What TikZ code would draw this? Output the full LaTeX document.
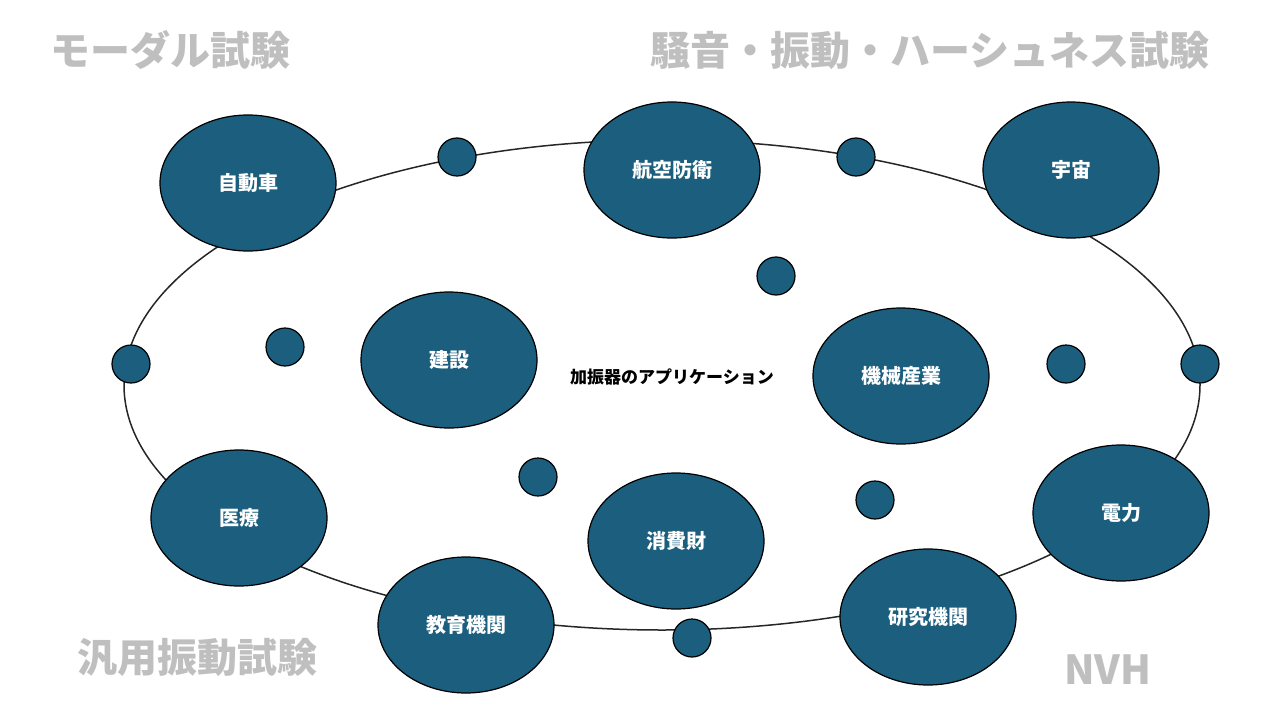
\documentclass[tikz,border=0pt]{standalone}
\usepackage{fontspec}
\setmainfont{Noto Sans CJK JP}
\usetikzlibrary{shapes.geometric}
\definecolor{nodeblue}{HTML}{1B5E7E}
\definecolor{titlegray}{HTML}{BFBFBF}
\begin{document}
\begin{tikzpicture}[x=1pt,y=-1pt,
	field/.style={draw=black,line width=1.2pt,fill=nodeblue,ellipse,minimum width=176pt,minimum height=136pt,
		text=white,font=\fontsize{20}{24}\selectfont\bfseries},
	dot/.style={draw=black,line width=1.2pt,fill=nodeblue,circle,minimum size=38pt,inner sep=0pt},
	title/.style={text=titlegray,font=\fontsize{40}{48}\selectfont\bfseries}]

	\useasboundingbox (0,0) rectangle (1280,720);
	\draw[line width=1.5pt,black!85] (662,385) ellipse (538 and 245);

	% fields
	\node[field] (car)    at (248,183) {自動車};
	\node[field] (aero)   at (672,170) {航空防衛};
	\node[field] (space)  at (1071,170) {宇宙};
	\node[field] (build)  at (449,360) {建設};
	\node[field] (mach)   at (901,376) {機械産業};
	\node[field] (med)    at (239,518) {医療};
	\node[field] (goods)  at (676,541) {消費財};
	\node[field] (power)  at (1121,513) {電力};
	\node[field] (edu)    at (466,625) {教育機関};
	\node[field] (lab)    at (928,617) {研究機関};

	% small dots
	\foreach \px/\py [count=\i] in {457/157,856/157,776/276,285/347,131/364,1066/364,1200/364,538/477,875/500,692/638}
		\node[dot] (d\i) at (\px,\py) {};

	\node[font=\fontsize{17}{20}\selectfont\bfseries] (center) at (672,377) {加振器のアプリケーション};

	% titles
	\node[title] (modal) at (170,50) {モーダル試験};
	\node[title] (nvhjp) at (930,50) {騒音・振動・ハーシュネス試験};
	\node[title] (gen)   at (197,657) {汎用振動試験};
	\node[title] (nvh) at (1108,670) {NVH};
\end{tikzpicture}
\end{document}
